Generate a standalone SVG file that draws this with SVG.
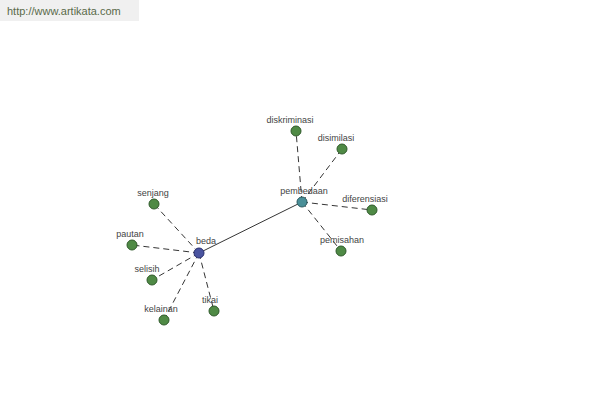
<svg xmlns="http://www.w3.org/2000/svg" width="600" height="400" viewBox="0 0 600 400">
<style>
.lbl{font-family:"Liberation Sans",Arial,sans-serif;font-size:9px;fill:#444;text-anchor:middle}
.leaf{fill:#4f8a45;stroke:#2f5a2a;stroke-width:1}
.d{stroke:#000;stroke-width:0.8;stroke-dasharray:6 4;fill:none}
.s{stroke:#000;stroke-width:0.8;fill:none}
</style>
<rect width="600" height="400" fill="#fff"/>
<rect x="0" y="0" width="139" height="21" fill="#f0f0f0"/>
<text x="7" y="15" font-family="Liberation Sans,Arial,sans-serif" font-size="11" fill="#5a6a4a">http://www.artikata.com</text>
<g id="connectors">
<line class="s" x1="199" y1="253" x2="302" y2="202"/>
<line class="d" x1="199" y1="253" x2="154" y2="204"/>
<line class="d" x1="199" y1="253" x2="132" y2="245"/>
<line class="d" x1="199" y1="253" x2="152" y2="280"/>
<line class="d" x1="199" y1="253" x2="164" y2="320"/>
<line class="d" x1="199" y1="253" x2="214" y2="311"/>
<line class="d" x1="302" y1="202" x2="296" y2="131"/>
<line class="d" x1="302" y1="202" x2="342" y2="149"/>
<line class="d" x1="302" y1="202" x2="372" y2="210"/>
<line class="d" x1="302" y1="202" x2="341" y2="251"/>
</g>
<g id="beda"><circle cx="199" cy="253" r="5" fill="#4a54a0" stroke="#2a3070"/><text class="lbl" x="206" y="244">beda</text></g>
<g id="pembedaan"><circle cx="302" cy="202" r="5" fill="#4a8f98" stroke="#2a5a60"/><text class="lbl" x="304" y="194">pembedaan</text></g>
<g id="senjang"><circle class="leaf" cx="154" cy="204" r="5"/><text class="lbl" x="153" y="196">senjang</text></g>
<g id="pautan"><circle class="leaf" cx="132" cy="245" r="5"/><text class="lbl" x="130" y="237">pautan</text></g>
<g id="selisih"><circle class="leaf" cx="152" cy="280" r="5"/><text class="lbl" x="147" y="272">selisih</text></g>
<g id="kelainan"><circle class="leaf" cx="164" cy="320" r="5"/><text class="lbl" x="161" y="312">kelainan</text></g>
<g id="tikai"><circle class="leaf" cx="214" cy="311" r="5"/><text class="lbl" x="210" y="303">tikai</text></g>
<g id="diskriminasi"><circle class="leaf" cx="296" cy="131" r="5"/><text class="lbl" x="290" y="123">diskriminasi</text></g>
<g id="disimilasi"><circle class="leaf" cx="342" cy="149" r="5"/><text class="lbl" x="336" y="141">disimilasi</text></g>
<g id="diferensiasi"><circle class="leaf" cx="372" cy="210" r="5"/><text class="lbl" x="365" y="202">diferensiasi</text></g>
<g id="pemisahan"><circle class="leaf" cx="341" cy="251" r="5"/><text class="lbl" x="342" y="243">pemisahan</text></g>
</svg>
